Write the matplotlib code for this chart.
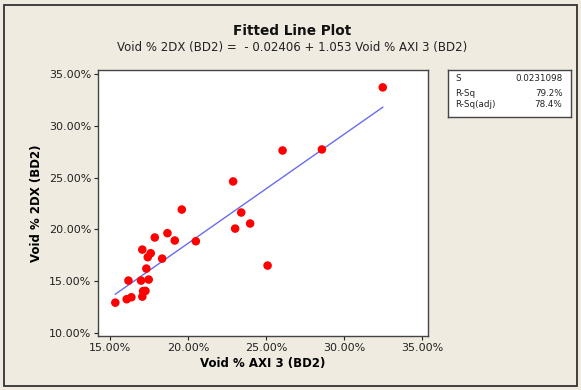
import numpy as np
import matplotlib
matplotlib.use("Agg")
import matplotlib.pyplot as plt
from matplotlib.patches import Rectangle
from matplotlib.ticker import FuncFormatter

# Void % AXI 3 (BD2) and Void % 2DX (BD2), in percent
axi3 = [32.48, 28.58, 26.06, 22.89, 23.41, 23.98, 23.02, 25.10, 19.60, 20.50,
        19.15, 18.68, 17.87, 18.34, 17.07, 17.61, 17.42, 17.33, 17.48, 16.99,
        16.18, 17.27, 17.12, 17.07, 16.37, 16.07, 15.34]
dx2 = [33.71, 27.72, 27.62, 24.63, 21.63, 20.57, 20.08, 16.51, 21.92, 18.86,
       18.93, 19.64, 19.22, 17.18, 18.05, 17.70, 17.32, 16.22, 15.16, 15.06,
       15.06, 14.06, 14.04, 13.51, 13.45, 13.26, 12.93]

# regression coefficients from the title (fractions)
b0 = -0.02406
b1 = 1.053

stat_names = ["S", "R-Sq", "R-Sq(adj)"]
stat_values = ["0.0231098", "79.2%", "78.4%"]

xticks = [15, 20, 25, 30, 35]
yticks = [10, 15, 20, 25, 30, 35]

bg = "#EFEBE1"
plt.rcParams['font.family'] = ['DejaVu Sans']

fig = plt.figure(figsize=(5.81, 3.9), dpi=100, facecolor=bg)

# outer frame
fig.patches.append(Rectangle((4 / 581, 4 / 390), 573 / 581, 381 / 390,
                             transform=fig.transFigure, fill=False,
                             edgecolor="#333333", linewidth=1.3))

ax = fig.add_axes([98 / 581, 1 - 336 / 390, 330 / 581, 266 / 390])
ax.set_facecolor("white")

x = np.array(axi3)
y = np.array(dx2)
xs = np.array([x.min(), x.max()])
ys = (b0 + b1 * xs / 100) * 100
ax.plot(xs, ys, color="#6B6BEF", linewidth=1.0, zorder=2)
ax.scatter(x, y, s=38, color="#FF0000", edgecolors="none", zorder=3)

ax.set_xlim(14.23, 35.38)
ax.set_ylim(9.71, 35.39)
ax.set_xticks(xticks)
ax.set_yticks(yticks)
pct = FuncFormatter(lambda v, p: "%.2f%%" % v)
ax.xaxis.set_major_formatter(pct)
ax.yaxis.set_major_formatter(pct)
ax.tick_params(axis="both", labelsize=8, colors="#222222", length=3,
               width=0.8, pad=2)
for sp in ax.spines.values():
    sp.set_color("#444444")
    sp.set_linewidth(1.0)

ax.set_xlabel("Void % AXI 3 (BD2)", fontsize=8.5, fontweight="bold",
              labelpad=3)
ax.set_ylabel("Void % 2DX (BD2)", fontsize=8.5, fontweight="bold",
              labelpad=4)

fig.text(292 / 581, 1 - 31 / 390, "Fitted Line Plot", ha="center",
         va="center", fontsize=9.8, fontweight="bold", color="#111111")
fig.text(292 / 581, 1 - 48 / 390,
         "Void % 2DX (BD2) =  - 0.02406 + 1.053 Void % AXI 3 (BD2)",
         ha="center", va="center", fontsize=8.5, color="#222222")

# stats box
sax = fig.add_axes([448 / 581, 1 - 117 / 390, 123 / 581, 47 / 390])
sax.set_xlim(0, 1)
sax.set_ylim(0, 1)
sax.set_xticks([])
sax.set_yticks([])
sax.set_facecolor("white")
for sp in sax.spines.values():
    sp.set_color("#444444")
    sp.set_linewidth(1.0)
rows = [0.81, 0.5, 0.27]
for name, val, ry in zip(stat_names, stat_values, rows):
    sax.text(0.06, ry, name, ha="left", va="center", fontsize=6.3,
             color="#222222")
    sax.text(0.93, ry, val, ha="right", va="center", fontsize=6.3,
             color="#222222")

fig.savefig("out.png", dpi=100, facecolor=bg)
